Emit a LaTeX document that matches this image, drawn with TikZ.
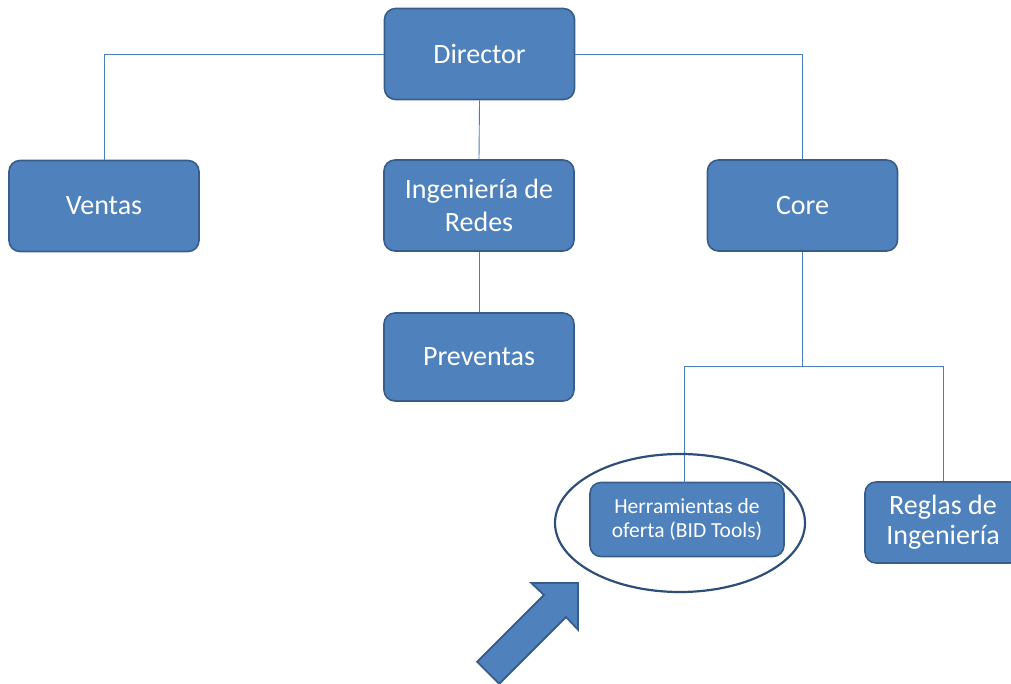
\documentclass[tikz,border=0pt]{standalone}
\usepackage{fontspec}
\setmainfont{Carlito}
\usetikzlibrary{shapes.geometric}
\definecolor{boxfill}{HTML}{4F81BD}
\definecolor{boxline}{HTML}{385D8A}
\definecolor{linkcol}{HTML}{4A7EBB}
\definecolor{ringcol}{HTML}{2E4F7A}
\begin{document}
\begin{tikzpicture}[x=1pt,y=-1pt,
  unit/.style={draw=boxline, line width=1.6pt, fill=boxfill, rounded corners=11pt,
    text=white, font=\fontsize{28}{33}\selectfont, align=center, inner sep=0pt,
    minimum width=190pt, minimum height=91pt},
  link/.style={draw=linkcol, line width=0.9pt}]
\useasboundingbox (0,0) rectangle (1011,684);

% organisation boxes
\node[unit] (dir) at (479.5,54) {Director};
\node[unit] (ven) at (104,206) {Ventas};
\node[unit] (ing) at (479,205.5) {Ingeniería de\\Redes};
\node[unit, minimum height=88pt] (pre) at (479,357) {Preventas};
\node[unit] (core) at (802.5,205.5) {Core};
\node[unit, minimum width=194pt, minimum height=74pt,
      font=\fontsize{21.5}{24}\selectfont] (herr) at (687,519.5) {Herramientas de\\oferta (BID Tools)};
\node[unit, minimum width=156pt, minimum height=81pt,
      font=\fontsize{28}{30}\selectfont] (reg) at (943,522.5) {Reglas de\\Ingeniería};

% connectors
\coordinate (split) at (802.5,366);
\draw[link] (dir.west) -| (ven.north);
\draw[link] (dir.east) -| (core.north);
\draw[link] (dir.south) -- (ing.north);
\draw[link] (ing.south) -- (pre.north);
\draw[link] (core.south) -- (split);
\draw[link] (split) -| (684,483);
\draw[link] (split) -| (reg.north);

% highlight ring
\node[draw=ringcol, line width=2.2pt, ellipse, minimum width=250pt, minimum height=138pt,
      inner sep=0pt] (ring) at (680,523) {};

% pointer arrow
\draw[draw=boxline, line width=1.8pt, fill=boxfill, line join=miter]
  (578,583) -- (578,629.7) -- (566,617) -- (499.2,683.8) -- (477.2,661.8)
  -- (544,595) -- (531.3,583) -- cycle;
\end{tikzpicture}
\end{document}
